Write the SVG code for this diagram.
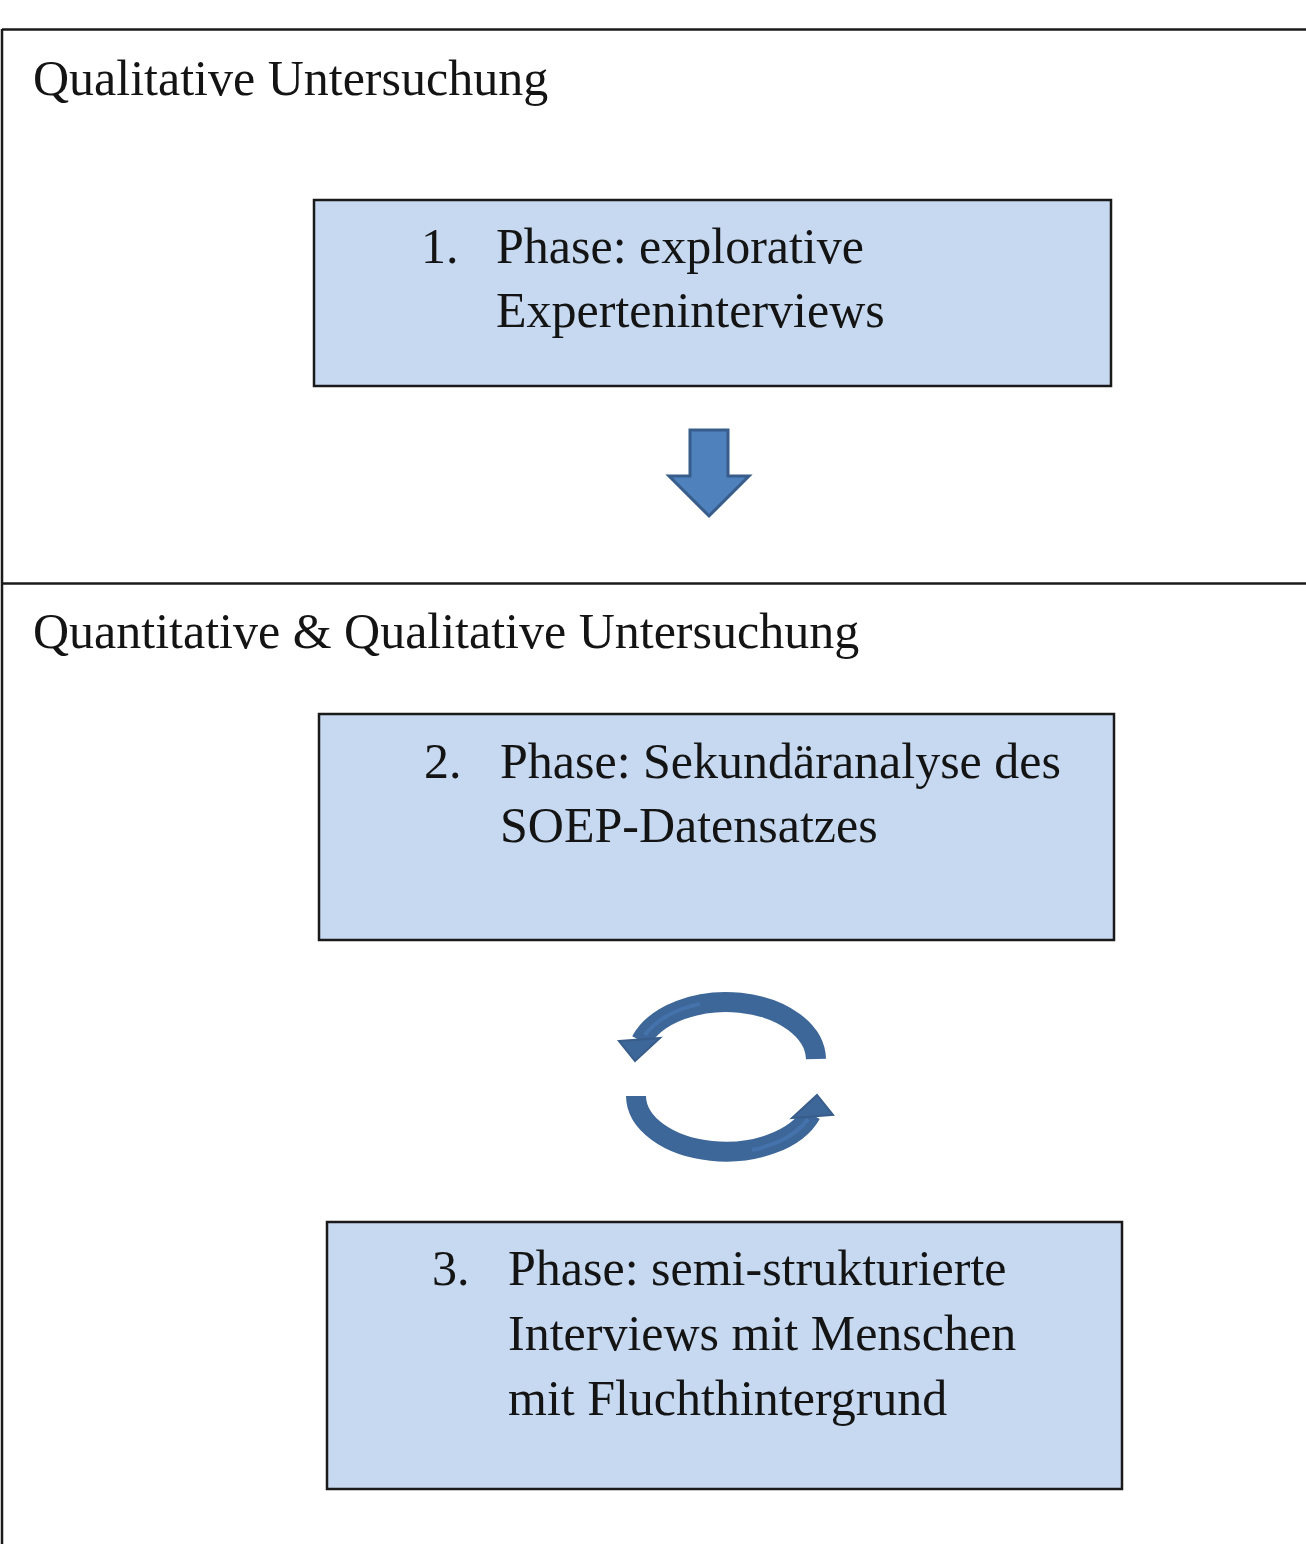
<svg xmlns="http://www.w3.org/2000/svg" width="1306" height="1544" viewBox="0 0 1306 1544">
<style>
.t{font-family:"Liberation Serif","Times New Roman",serif;font-size:50px;fill:#141414}
.box{fill:#C6D9F1;stroke:#1a1a1a;stroke-width:2.5}
.frame{stroke:#1a1a1a;stroke-width:2.5;fill:none}
.arc{fill:none;stroke:#3D6699;stroke-width:20}
.arcin{fill:none;stroke:#4A7AB5;stroke-width:4}
.head{fill:#3D6699;stroke:#385D8A;stroke-width:2;stroke-linejoin:miter}
</style>
<rect width="1306" height="1544" fill="#fff"/>
<g id="frame">
<line class="frame" x1="2" y1="29.5" x2="1306" y2="29.5"/>
<line class="frame" x1="2" y1="29" x2="2" y2="1544"/>
<line class="frame" x1="2" y1="583.5" x2="1306" y2="583.5"/>
<text class="t" x="33" y="95">Qualitative Untersuchung</text>
<text class="t" x="33" y="648">Quantitative &amp; Qualitative Untersuchung</text>
</g>
<g id="phase1">
<rect class="box" x="314" y="200" width="797" height="186"/>
<text class="t" x="421" y="263">1.</text>
<text class="t" x="496" y="263">Phase: explorative</text>
<text class="t" x="496" y="327">Experteninterviews</text>
</g>
<g id="phase2">
<rect class="box" x="319" y="714" width="795" height="226"/>
<text class="t" x="424" y="778">2.</text>
<text class="t" x="500" y="778">Phase: Sekundäranalyse des</text>
<text class="t" x="500" y="842">SOEP-Datensatzes</text>
</g>
<g id="phase3">
<rect class="box" x="327" y="1222" width="795" height="267"/>
<text class="t" x="432" y="1285">3.</text>
<text class="t" x="508" y="1285">Phase: semi-strukturierte</text>
<text class="t" x="508" y="1350">Interviews mit Menschen</text>
<text class="t" x="508" y="1415">mit Fluchthintergrund</text>
</g>
<g id="connectors">
<polygon points="690,430 728,430 728,476 749,476 709,516 669,476 690,476" fill="#4F81BD" stroke="#385D8A" stroke-width="3" stroke-linejoin="miter"/>
<path class="arc" d="M816,1059 A90 58 0 0 0 641,1041"/>
<path class="arcin" d="M700,1004 A90 58 0 0 0 645,1035" opacity="0.6"/>
<polygon class="head" points="619,1041 660,1038 635,1061"/>
<path class="arc" d="M636,1096 A90 56 0 0 0 811,1114"/>
<path class="arcin" d="M752,1150 A90 56 0 0 0 808,1119" opacity="0.6"/>
<polygon class="head" points="792,1118 833,1115 817,1095"/>
</g>
</svg>
